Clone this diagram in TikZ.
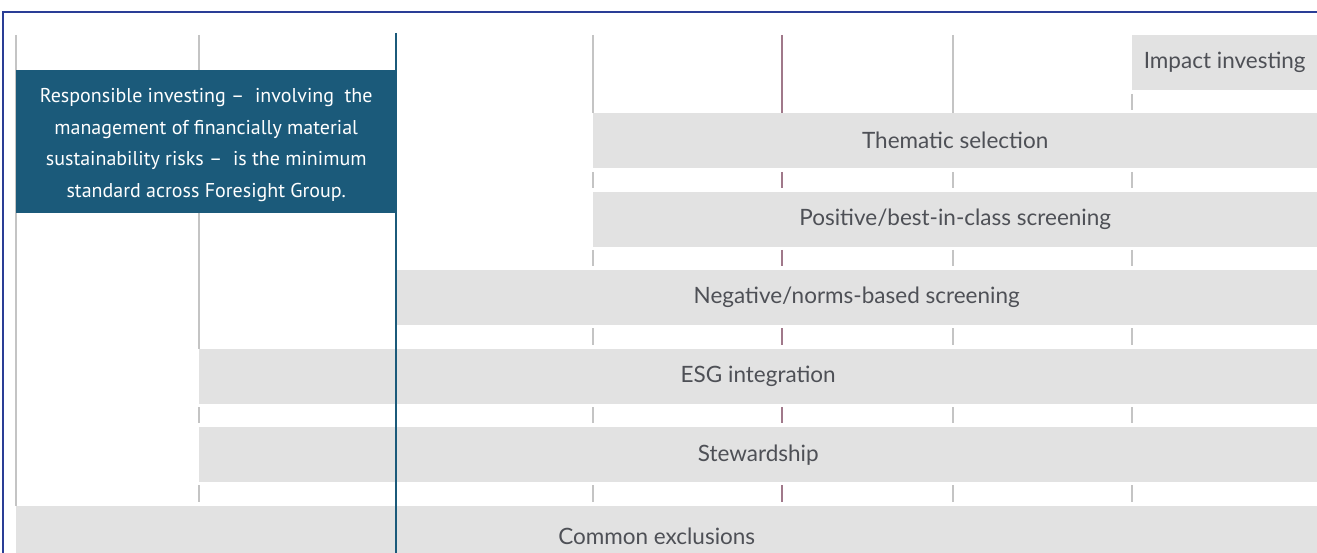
\documentclass[tikz,border=0pt]{standalone}
\usepackage{fontspec}
\setmainfont{Lato}
\newfontfamily\boxfont{PT Sans}
\definecolor{framecol}{RGB}{42,62,150}
\definecolor{boxcol}{RGB}{27,90,122}
\definecolor{barcol}{RGB}{226,226,226}
\definecolor{tickcol}{RGB}{196,196,196}
\definecolor{mauvecol}{RGB}{160,120,138}
\definecolor{textcol}{RGB}{78,80,86}
\tikzset{
  bar/.style={fill=barcol, anchor=north west, minimum height=55pt, inner sep=0pt,
    text=textcol, font=\fontsize{22.5}{26}\selectfont},
  tick/.style={draw=tickcol, line width=1.4pt},
  mtick/.style={draw=mauvecol, line width=1.4pt},
}
\begin{document}
\begin{tikzpicture}[x=1pt, y=-1pt]
        \useasboundingbox (0,0) rectangle (1317,553);

        % bars
        \node[bar, minimum width=185pt] (impact) at (1132,35) {Impact investing};
        \node[bar, minimum width=724pt] (thematic) at (593,113) {Thematic selection};
        \node[bar, minimum width=724pt] (positive) at (593,192) {Positive/best-in-class screening};
        \node[bar, minimum width=921pt] (negative) at (396,270) {Negative/norms-based screening};
        \node[bar, minimum width=1118pt] (esg) at (199,349) {ESG integration};
        \node[bar, minimum width=1118pt] (stewardship) at (199,427) {Stewardship};
        \node[bar, minimum width=1301pt, minimum height=60pt] (common) at (16,506) {Common exclusions\kern20pt};

        % column lines and ticks
        \draw[tick] (16,35) -- (16,506);
        \draw[tick] (199,35) -- (esg.north west)
          (199,407) -- (199,423) (199,485) -- (199,502);
        \draw[tick] (593,35) -- (thematic.north west)
          (593,172) -- (593,188) (593,250) -- (593,266) (593,328) -- (593,345)
          (593,407) -- (593,423) (593,485) -- (593,502);
        \draw[mtick] (782,35) -- (782,113)
          (782,172) -- (782,188) (782,250) -- (782,266) (782,328) -- (782,345)
          (782,407) -- (782,423) (782,485) -- (782,502);
        \draw[tick] (953,35) -- (953,113)
          (953,172) -- (953,188) (953,250) -- (953,266) (953,328) -- (953,345)
          (953,407) -- (953,423) (953,485) -- (953,502);
        \draw[tick] (1132,94) -- (1132,110)
          (1132,172) -- (1132,188) (1132,250) -- (1132,266) (1132,328) -- (1132,345)
          (1132,407) -- (1132,423) (1132,485) -- (1132,502);

        % minimum standard box
        \node[fill=boxcol, anchor=north west, minimum width=380pt, minimum height=143pt,
          inner sep=0pt, text=white, align=center,
          font=\boxfont\fontsize{20}{31.5}\selectfont] (standard) at (16,70)
          {\rule{0pt}{21pt}Responsible investing –\ \ involving\ \ the\\management of financially material\\
           sustainability risks –\ \ is the minimum\\standard across Foresight Group.};

        % divider
        \draw[boxcol, line width=2.5pt] (396,33) -- (396,553);

        % frame
        \draw[framecol, line width=2pt] (1317,12) -- (3,12) -- (3,553);

\end{tikzpicture}
\end{document}
